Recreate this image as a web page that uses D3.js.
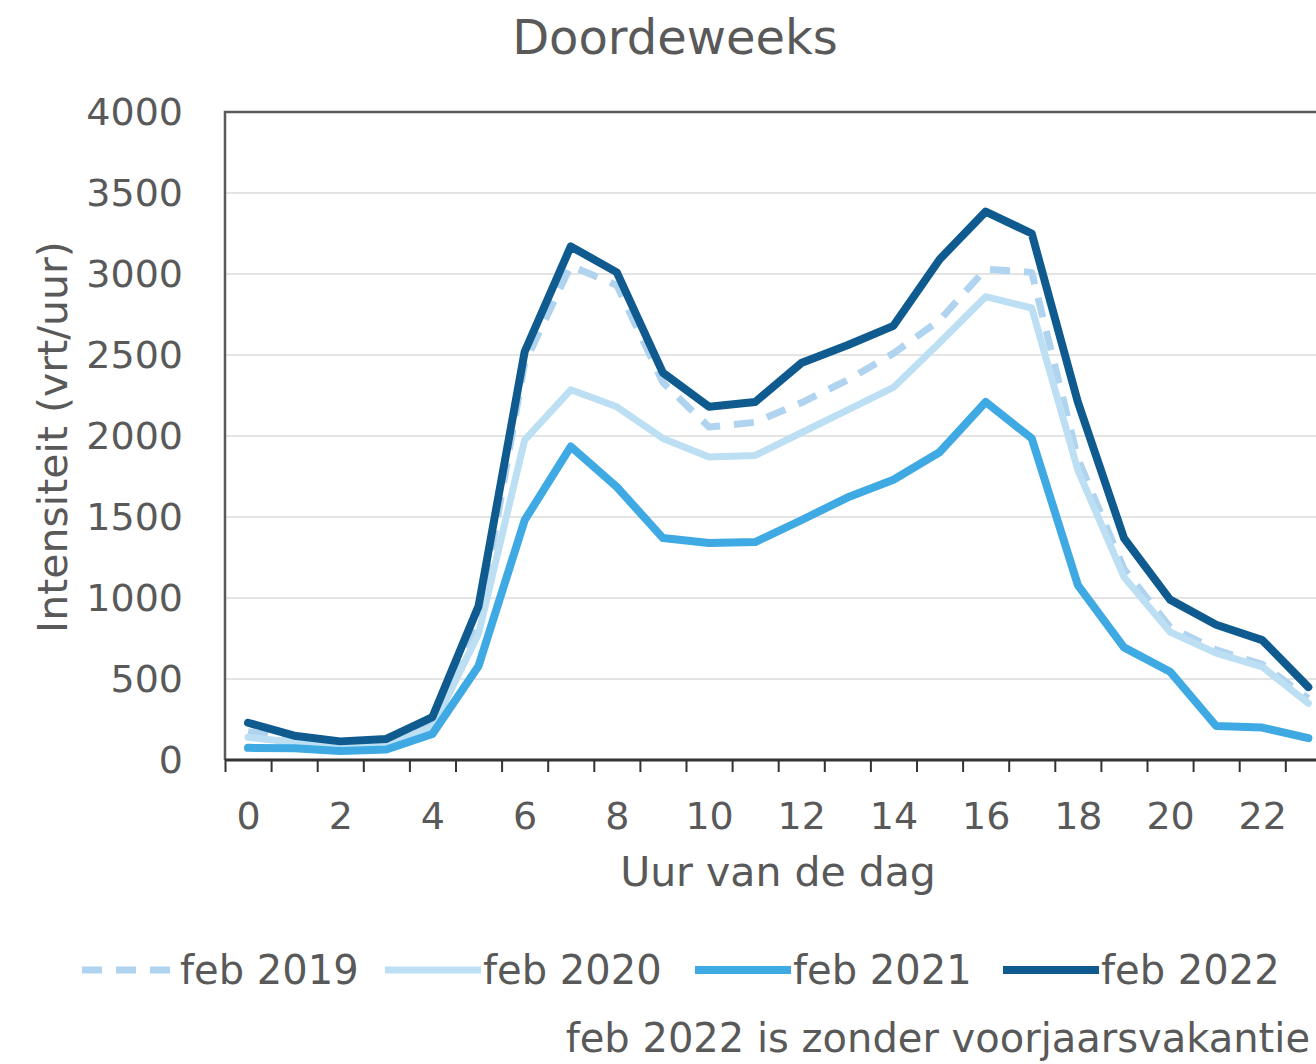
<!DOCTYPE html>
<html>
<head>
<meta charset="utf-8">
<script src="https://cdn.jsdelivr.net/npm/d3@7"></script>
<style>
  html, body { margin: 0; padding: 0; background: #fff; overflow: hidden; }
  svg { display: block; }
</style>
</head>
<body>
<div class="chart"></div>
<script>
const width = 1316
const height = 1064

const hours = d3.range(0, 24)
const yTicks = [0, 500, 1000, 1500, 2000, 2500, 3000, 3500, 4000]
const xLabels = [0, 2, 4, 6, 8, 10, 12, 14, 16, 18, 20, 22]

const feb2019 = [175, 130, 100, 110, 225, 830, 2450, 3050, 2930, 2330, 2055, 2085, 2205, 2345, 2510, 2715, 3030, 3010, 1860, 1180, 820, 680, 590, 380]
const feb2020 = [140, 110, 85, 95, 200, 780, 1975, 2285, 2180, 1985, 1870, 1880, 2020, 2160, 2300, 2575, 2860, 2790, 1790, 1130, 790, 660, 575, 350]
const feb2021 = [75, 72, 55, 65, 160, 580, 1480, 1935, 1685, 1370, 1340, 1345, 1480, 1620, 1730, 1900, 2210, 1985, 1080, 695, 545, 210, 200, 135]
const feb2022 = [230, 150, 115, 130, 265, 950, 2520, 3170, 3010, 2390, 2180, 2210, 2450, 2560, 2680, 3090, 3385, 3250, 2210, 1370, 990, 835, 740, 450]

const series = [
    {name: "feb 2019", values: feb2019, color: "#b0d4ef", width: 7, dash: "20,14"},
    {name: "feb 2020", values: feb2020, color: "#bcdff3", width: 7, dash: null},
    {name: "feb 2021", values: feb2021, color: "#3ea9e2", width: 8, dash: null},
    {name: "feb 2022", values: feb2022, color: "#0f5b8f", width: 8, dash: null},
]

const font = "DejaVu Sans, Verdana, sans-serif"
const textColor = "#595959"

const margin = {top: 112, left: 225, bottom: 304}
const step = 46.1
const innerWidth = step * hours.length
const innerHeight = height - margin.top - margin.bottom

const svg = d3.select(".chart")
    .append("svg")
    .attr("width", width)
    .attr("height", height)
    .attr("font-family", font)

const xScale = d3.scaleLinear()
    .domain([-0.5, 23.5])
    .range([0, innerWidth])

const yScale = d3.scaleLinear()
    .domain([0, 4000])
    .range([innerHeight, 0])

svg.append("text")
    .attr("x", 675)
    .attr("y", 54)
    .attr("text-anchor", "middle")
    .attr("font-size", 48)
    .attr("fill", textColor)
    .text("Doordeweeks")

const g = svg.append("g")
    .attr("transform", `translate(${margin.left}, ${margin.top})`)

//gridlines
g.append("g")
    .selectAll("line")
    .data(yTicks.slice(1, -1))
    .enter().append("line")
        .attr("x1", 0)
        .attr("x2", width - margin.left)
        .attr("y1", d => yScale(d))
        .attr("y2", d => yScale(d))
        .attr("stroke", "#e4e4e4")
        .attr("stroke-width", 2)

//frame left + top
g.append("path")
    .attr("d", `M0,${innerHeight}V0H${width - margin.left}`)
    .attr("fill", "none")
    .attr("stroke", "#5a5a5a")
    .attr("stroke-width", 2.5)

const yAxis = g.append("g")
    .call(d3.axisLeft(yScale).tickValues(yTicks).tickFormat(d3.format("d")).tickSize(0).tickPadding(42))
    .attr("font-size", 38)
    .attr("font-family", font)
yAxis.select("path.domain").remove()
yAxis.selectAll("text").attr("fill", textColor)

// tick marks sit between the hours, labels on every second hour
const boundaries = d3.range(-0.5, 23, 1)
const xTickAxis = g.append("g")
    .attr("transform", `translate(0, ${innerHeight})`)
    .call(d3.axisBottom(xScale).tickValues(boundaries).tickSize(12).tickSizeOuter(0))
xTickAxis.selectAll("text").remove()
xTickAxis.select("path.domain").attr("d", `M0,0H${width - margin.left}`)
    .attr("stroke", "#333").attr("stroke-width", 3)
xTickAxis.selectAll("g.tick line").attr("stroke", "#333").attr("stroke-width", 2)

const xLabelAxis = g.append("g")
    .attr("transform", `translate(0, ${innerHeight})`)
    .call(d3.axisBottom(xScale).tickValues(xLabels).tickSize(0).tickPadding(42))
    .attr("font-size", 38)
    .attr("font-family", font)
xLabelAxis.select("path.domain").remove()
xLabelAxis.selectAll("text").attr("fill", textColor)

g.append("text")
    .attr("x", 553)
    .attr("y", 886 - margin.top)
    .attr("text-anchor", "middle")
    .attr("font-size", 41)
    .attr("fill", textColor)
    .text("Uur van de dag")

svg.append("text")
    .attr("transform", "translate(67, 437) rotate(-90)")
    .attr("text-anchor", "middle")
    .attr("font-size", 41)
    .attr("fill", textColor)
    .text("Intensiteit (vrt/uur)")

//lines
const line = d3.line()
    .x((d, i) => xScale(hours[i]))
    .y(d => yScale(d))

g.selectAll("path.serie")
    .data(series)
    .enter().append("path")
        .attr("class", "serie")
        .attr("d", d => line(d.values))
        .attr("fill", "none")
        .attr("stroke", d => d.color)
        .attr("stroke-width", d => d.width)
        .attr("stroke-dasharray", d => d.dash)
        .attr("stroke-linejoin", "round")
        .attr("stroke-linecap", d => d.dash ? "butt" : "round")

//legend
const legendX = [82, 385, 695, 1003]
const legend = svg.selectAll("g.legend")
    .data(series)
    .enter().append("g")
        .attr("class", "legend")
        .attr("transform", (d, i) => `translate(${legendX[i]}, 970)`)

legend.append("line")
    .attr("x1", 0)
    .attr("x2", 96)
    .attr("stroke", d => d.color)
    .attr("stroke-width", d => d.width)
    .attr("stroke-dasharray", d => d.dash)

legend.append("text")
    .attr("x", 98)
    .attr("y", 14)
    .attr("font-size", 40)
    .attr("fill", textColor)
    .text(d => d.name)

svg.append("text")
    .attr("x", 1310)
    .attr("y", 1052)
    .attr("text-anchor", "end")
    .attr("font-size", 40)
    .attr("fill", textColor)
    .text("feb 2022 is zonder voorjaarsvakantie")
</script>
</body>
</html>
